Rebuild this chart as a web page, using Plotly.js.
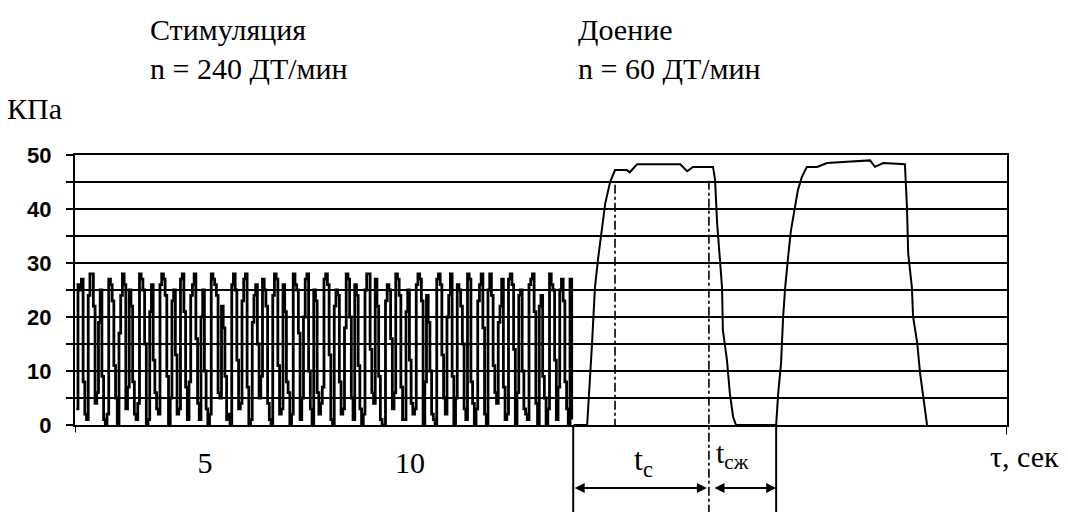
<!DOCTYPE html>
<html>
<head>
<meta charset="utf-8">
<script src="https://cdn.plot.ly/plotly-3.0.1.min.js"></script>
<style>html,body{margin:0;padding:0;background:#fff;}</style>
</head>
<body>
<div id="chart" style="width:1068px;height:512px;"></div>
<script>
// Stimulation phase: pressure samples (kPa), sampled every stimStep seconds from stimStart
const stimStart = 1.86;
const stimStep = 0.041667;
const stimValues = [
  3,26,25,27,8,2,  1,24,28,28,22,4,  6,19,25,9,1,0,   2,27,26,23,11,5,
  0,17,24,28,26,3, 7,25,22,8,2,1,    4,28,27,25,15,0, 1,21,26,12,6,3,
  2,26,28,27,24,9, 0,5,23,25,13,2,   3,27,28,21,7,1,  8,24,26,28,16,4,
  1,20,25,10,3,0,  2,28,27,26,24,6,  5,22,18,9,1,2,   0,26,28,25,12,3,
  4,23,27,28,7,0,  1,19,24,26,15,5,  9,27,25,22,4,1,  0,24,28,27,11,2,
  3,26,21,8,6,0,   2,28,26,25,17,1,  5,20,27,28,10,3, 0,25,23,6,2,4,
  7,27,28,26,13,1, 0,22,25,24,8,2,   3,18,28,27,20,5, 1,26,24,11,3,0,
  2,25,28,28,14,6, 4,27,22,9,1,0,    0,23,26,25,16,3, 6,28,27,24,7,1,
  1,21,25,12,4,2,  3,26,28,27,23,0,  8,24,19,10,2,1,  0,27,28,26,13,5,
  2,20,24,28,9,0,  5,26,25,22,15,3,  1,28,27,8,4,0,   3,23,26,28,18,2,
  0,25,28,24,11,6, 4,19,22,27,7,1,   2,27,28,26,14,0, 6,24,25,10,3,2,
  1,26,27,28,21,4, 0,22,24,9,5,0,    3,28,26,25,12,1, 7,25,27,23,8,3,
  0,27,1
];
const stimTime = stimValues.map((v, i) => +(stimStart + i * stimStep).toFixed(4));

// Milking phase: two pulsation cycles (time s, pressure kPa)
const milkTime = [
  13.99, 14.32, 14.44, 14.51, 14.59, 14.68, 14.76, 14.88, 15.00, 15.29, 15.36, 15.54, 16.59, 16.76, 16.90, 17.39,
  17.44, 17.49, 17.56, 17.61, 17.63, 17.73, 17.80, 17.88, 17.95,
  18.93, 18.98, 19.05, 19.10, 19.15, 19.22, 19.29, 19.39, 19.46, 19.56, 19.68, 19.93, 20.17, 20.56, 21.22, 21.34, 21.54, 22.07,
  22.12, 22.15, 22.24, 22.27, 22.37, 22.44, 22.51, 22.61
];
const milkValues = [
  0, 0, 15.2, 25.5, 31, 36, 41, 45, 47.2, 47.2, 46.8, 48.3, 48.3, 47.0, 47.8, 47.8,
  45.4, 37.4, 31, 25.5, 17.6, 12, 5.9, 1.5, 0,
  0, 5.9, 11.5, 20, 25.5, 31, 36, 40.4, 43.5, 46, 47.8, 47.8, 48.5, 48.7, 49, 47.8, 48.5, 48.3,
  40.4, 31.8, 25.5, 20, 15.2, 9.6, 5.2, 0
];

// Axis ticks
const yTickVals = [0, 5, 10, 15, 20, 25, 30, 35, 40, 45, 50];
const yTickText = ['0', '', '10', '', '20', '', '30', '', '40', '', '50'];
const xTickVals = [5, 10];
const xTickText = ['5', '10'];

// Reference marks (s)
const tStimEnd = 13.98;
const tValveOpen = 15.0;
const tSuckEnd = 17.29;
const tNextStart = 18.93;
const xMin = 1.829, xMax = 24.56;

const serif = "'Times New Roman', 'Liberation Serif', serif";

const traces = [
  {x: stimTime, y: stimValues, mode: 'lines', name: 'Стимуляция',
   line: {color: '#000', width: 2.8, shape: 'hv'}, showlegend: false},
  {x: milkTime, y: milkValues, mode: 'lines', name: 'Доение',
   line: {color: '#000', width: 2}, showlegend: false}
];

const arrowY = -0.233;
const layout = {
  width: 1068, height: 512, autosize: false,
  margin: {l: 75, r: 61, t: 155, b: 87},
  paper_bgcolor: '#fff', plot_bgcolor: '#fff',
  font: {family: serif, size: 30, color: '#000'},
  showlegend: false,
  xaxis: {
    range: [xMin, xMax], tickvals: xTickVals, ticktext: xTickText,
    ticks: '', showgrid: false, zeroline: false,
    showline: true, linecolor: '#000', linewidth: 2, mirror: true,
    ticklabelstandoff: 10,
    tickfont: {family: serif, size: 30, color: '#000'}
  },
  yaxis: {
    range: [0, 50], tickvals: yTickVals, ticktext: yTickText,
    ticks: 'outside', ticklen: 7, tickwidth: 2, tickcolor: '#000',
    showgrid: true, gridcolor: '#000', gridwidth: 1.6, zeroline: false,
    showline: true, linecolor: '#000', linewidth: 2, mirror: true,
    ticklabelstandoff: 10,
    tickfont: {family: "'Liberation Sans', Arial, sans-serif", size: 22, color: '#000', weight: 'bold'}
  },
  shapes: [
    {type: 'line', xref: 'x', yref: 'paper', x0: xMin, x1: xMin, y0: 0, y1: -0.028, line: {color: '#000', width: 2}},
    {type: 'line', xref: 'x', yref: 'paper', x0: xMax, x1: xMax, y0: 0, y1: -0.035, line: {color: '#000', width: 2}},
    {type: 'line', xref: 'x', yref: 'paper', x0: tStimEnd, x1: tStimEnd, y0: 0, y1: -0.33, line: {color: '#000', width: 2}},
    {type: 'line', xref: 'x', yref: 'paper', x0: tNextStart, x1: tNextStart, y0: 0, y1: -0.33, line: {color: '#000', width: 2}},
    {type: 'line', xref: 'x', yref: 'paper', x0: tValveOpen, x1: tValveOpen, y0: 0.89, y1: 0, line: {color: '#000', width: 1.6, dash: 'dashdot'}},
    {type: 'line', xref: 'x', yref: 'paper', x0: tSuckEnd, x1: tSuckEnd, y0: 0.905, y1: -0.33, line: {color: '#000', width: 1.6, dash: 'dashdot'}}
  ],
  annotations: [
    {xref: 'paper', yref: 'paper', x: 0.0785, y: 1.535, xanchor: 'left', yanchor: 'top', align: 'left', showarrow: false,
     text: 'Стимуляция<br>n = 240 ДТ/мин'},
    {xref: 'paper', yref: 'paper', x: 0.538, y: 1.535, xanchor: 'left', yanchor: 'top', align: 'left', showarrow: false,
     text: 'Доение<br>n = 60 ДТ/мин'},
    {xref: 'paper', yref: 'paper', x: -0.075, y: 1.24, xanchor: 'left', yanchor: 'top', showarrow: false,
     text: 'КПа'},
    {xref: 'paper', yref: 'paper', x: 0.98, y: -0.118, xanchor: 'left', yanchor: 'middle', showarrow: false,
     text: 'τ, сек'},
    {xref: 'paper', yref: 'paper', x: 0.598, y: -0.135, xanchor: 'left', yanchor: 'middle', showarrow: false,
     text: 't<sub>с</sub>', font: {size: 32}},
    {xref: 'paper', yref: 'paper', x: 0.686, y: -0.11, xanchor: 'left', yanchor: 'middle', showarrow: false,
     text: 't<sub>сж</sub>'},
    {xref: 'x', yref: 'paper', x: tSuckEnd - 0.05, y: arrowY, axref: 'x', ayref: 'pixel', ax: tStimEnd, ay: 0,
     text: '', showarrow: true, arrowside: 'end+start', arrowhead: 2, arrowsize: 1, arrowwidth: 2, arrowcolor: '#000',
     standoff: 0, startstandoff: 0},
    {xref: 'x', yref: 'paper', x: tNextStart, y: arrowY, axref: 'x', ayref: 'pixel', ax: tSuckEnd + 0.1, ay: 0,
     text: '', showarrow: true, arrowside: 'end+start', arrowhead: 2, arrowsize: 1, arrowwidth: 2, arrowcolor: '#000',
     standoff: 0, startstandoff: 0}
  ]
};

Plotly.newPlot('chart', traces, layout, {displayModeBar: false, staticPlot: true});
</script>
</body>
</html>
